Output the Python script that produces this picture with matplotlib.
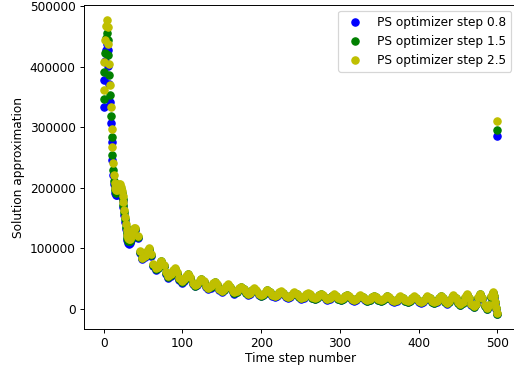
import numpy as np
import matplotlib
matplotlib.use("Agg")
import matplotlib.pyplot as plt

# time steps: every step at the start, then ~6 samples per period of the wiggle
steps = list(range(40)) + [
    40, 43, 46, 49, 52, 55,
    57, 60, 63, 66, 69, 72,
    73, 76, 79, 82, 85, 88,
    90, 93, 96, 99, 102, 105,
    107, 110, 113, 116, 119, 122,
    124, 127, 130, 133, 136, 139,
    141, 144, 147, 150, 153, 156,
    158, 161, 164, 166, 169, 172,
    175, 178, 181, 183, 186, 189,
    191, 194, 197, 200, 203, 206,
    208, 211, 214, 217, 220, 223,
    225, 228, 231, 234, 237, 240,
    242, 245, 248, 251, 254, 257,
    259, 262, 265, 268, 271, 274,
    276, 279, 282, 284, 287, 290,
    292, 295, 298, 301, 304, 307,
    309, 312, 315, 318, 321, 324,
    326, 329, 332, 335, 338, 341,
    343, 346, 349, 352, 355, 358,
    360, 363, 366, 369, 372, 375,
    377, 380, 383, 386, 389, 392,
    394, 397, 400, 403, 406, 409,
    411, 414, 417, 420, 423, 426,
    428, 431, 434, 436, 439, 442,
    444, 447, 450, 453, 456, 459,
    461, 464, 467, 470, 473, 476,
    478, 481, 484, 487, 490, 492,
    494, 496, 497, 498, 499, 500]

# solution approximation, in thousands
step_08 = [
    334, 378, 410, 428, 438, 428, 402, 371, 342, 307, 276, 246, 222, 206,
    200, 192, 188, 189, 193, 197, 199, 198, 194, 187, 178, 168, 156, 144, 132, 122,
    114, 109.5, 108, 109, 111, 114, 118, 122, 126, 128,
    131, 117.8, 92.8, 82, 85.3, 93,
    97, 88.1, 71.3, 64, 66.9, 73.5,
    77, 70.3, 57.5, 52, 54.6, 60.8,
    64, 58.5, 48, 43.5, 46, 51.9,
    56, 51, 41.6, 37.5, 39.8, 45.2,
    48, 44, 36.3, 33, 35.2, 40.3,
    43, 39.1, 31.7, 28.5, 30.7, 35.8,
    38.5, 35, 28.4, 25.5, 27.6, 32.4,
    35, 31.8, 25.8, 23.2, 25.1, 29.6,
    32, 29, 23.4, 21, 22.9, 27.2,
    29.9, 27.2, 22.1, 19.9, 21.7, 25.7,
    27.9, 25.3, 20.5, 18.4, 20.1, 24.1,
    26.2, 23.8, 19.2, 17.2, 18.9, 22.7,
    24.7, 22.4, 18.1, 16.2, 17.8, 21.6,
    23.6, 21.4, 17.2, 15.4, 17, 20.7,
    22.7, 20.5, 16.4, 14.6, 16.2, 19.9,
    21.9, 19.7, 15.7, 13.9, 15.5, 19.2,
    21.2, 19, 15, 13.2, 14.8, 18.6,
    20.6, 18.4, 14.4, 12.6, 14.3, 18.1,
    20.1, 17.9, 13.7, 11.9, 13.6, 17.5,
    19.6, 17.3, 13, 11.2, 13, 17.2,
    19.4, 16.9, 12.2, 10.2, 12.2, 16.9,
    19.4, 16.7, 11.6, 9.4, 11.7, 17.1,
    19.9, 16.8, 10.9, 8.4, 11.2, 17.5,
    20.9, 17, 9.6, 6.4, 9.9, 18.1,
    22.4, 17.1, 7.2, 2.9, 7.5, 18.2,
    23.9, 17.3, 4.8, -0.6, 5.3, 19.1,
    26.4, 20.4, 10.4, 0.4, -9, 285]
step_15 = [
    346, 391, 423, 447, 455, 445, 419, 386, 353, 318, 284, 254, 229, 212,
    204, 196, 192, 193, 197, 201, 203, 202, 198, 191, 182, 172, 160, 148, 136, 126,
    118, 113, 111.5, 112.5, 114.5, 117.5, 121.5, 125.5, 129, 130.5,
    132.5, 119.3, 94.3, 83.5, 86.8, 94.5,
    98.5, 89.6, 72.8, 65.5, 68.4, 75,
    78.5, 71.8, 59, 53.5, 56.1, 62.3,
    65.5, 60, 49.5, 45, 47.5, 53.4,
    57, 52, 42.6, 38.5, 40.8, 46.2,
    49, 45, 37.3, 34, 36.2, 41.3,
    44, 40.1, 32.7, 29.5, 31.7, 36.8,
    39.5, 36, 29.4, 26.5, 28.6, 33.4,
    36, 32.8, 26.8, 24.2, 26.1, 30.6,
    33, 30, 24.4, 22, 23.9, 28.2,
    30.7, 28, 22.9, 20.7, 22.5, 26.5,
    28.7, 26.1, 21.3, 19.2, 20.9, 24.9,
    27, 24.6, 20, 18, 19.7, 23.5,
    25.5, 23.2, 18.9, 17, 18.6, 22.4,
    24.4, 22.2, 18, 16.2, 17.8, 21.5,
    23.5, 21.3, 17.2, 15.4, 17, 20.7,
    22.7, 20.5, 16.5, 14.7, 16.3, 20,
    22, 19.8, 15.8, 14, 15.6, 19.4,
    21.4, 19.2, 15.2, 13.4, 15.1, 18.9,
    20.9, 18.7, 14.5, 12.7, 14.4, 18.3,
    20.4, 18.1, 13.8, 12, 13.8, 18,
    20.2, 17.7, 13, 11, 13, 17.7,
    20.2, 17.5, 12.4, 10.2, 12.5, 17.9,
    20.7, 17.6, 11.7, 9.2, 11.8, 18.3,
    21.7, 17.8, 10.4, 7.2, 10.7, 18.9,
    23.2, 17.9, 8, 3.7, 8.3, 19,
    24.7, 18.1, 5.6, 0.2, 6.1, 19.9,
    27.2, 21.2, 11.2, 1.2, -8, 295]
step_25 = [
    362, 408, 444, 468, 478, 466, 438, 405, 370, 334, 298, 268, 241, 221,
    208, 200, 196, 197, 201, 205, 207, 206, 202, 195, 186, 176, 164, 152, 140, 130,
    122, 117, 115, 116, 118, 121, 125, 129, 132, 133.5,
    134, 120.8, 95.8, 85, 88.3, 96,
    100, 91.1, 74.3, 67, 69.9, 76.5,
    80, 73.3, 60.5, 55, 57.6, 63.8,
    67, 61.5, 51, 46.5, 49, 54.9,
    58, 53, 43.6, 39.5, 41.8, 47.2,
    50, 46, 38.3, 35, 37.2, 42.3,
    45, 41.1, 33.7, 30.5, 32.7, 37.8,
    40.5, 37, 30.4, 27.5, 29.6, 34.4,
    37, 33.8, 27.8, 25.2, 27.1, 31.6,
    34, 31, 25.4, 23, 24.9, 29.2,
    31.5, 28.8, 23.7, 21.5, 23.3, 27.3,
    29.5, 26.9, 22.1, 20, 21.7, 25.7,
    27.8, 25.4, 20.8, 18.8, 20.5, 24.3,
    26.3, 24, 19.7, 17.8, 19.4, 23.2,
    25.2, 23, 18.8, 17, 18.6, 22.3,
    24.3, 22.1, 18, 16.2, 17.8, 21.5,
    23.5, 21.3, 17.3, 15.5, 17.1, 20.8,
    22.8, 20.6, 16.6, 14.8, 16.4, 20.2,
    22.2, 20, 16, 14.2, 15.9, 19.7,
    21.7, 19.5, 15.3, 13.5, 15.2, 19.1,
    21.2, 18.9, 14.6, 12.8, 14.6, 18.8,
    21, 18.5, 13.8, 11.8, 13.8, 18.5,
    21, 18.3, 13.2, 11, 13.3, 18.7,
    21.5, 18.4, 12.5, 10, 12.8, 19.1,
    22.5, 18.6, 11.2, 8, 11.5, 19.7,
    24, 18.7, 8.8, 4.5, 9.1, 19.8,
    25.5, 18.9, 6.4, 1, 6.9, 20.7,
    28, 22, 12, 2, -7, 310]

dpi = 87.4
fig = plt.figure(figsize=(514 / dpi, 366 / dpi), dpi=dpi)
ax = fig.add_axes([84 / 514, 37 / 366, 433 / 514, 324 / 366])

ax.plot(steps, np.array(step_08) * 1000, 'bo', label="PS optimizer step 0.8")
ax.plot(steps, np.array(step_15) * 1000, 'go', label="PS optimizer step 1.5")
ax.plot(steps, np.array(step_25) * 1000, 'yo', label="PS optimizer step 2.5")

ax.set_xlim(-25, 525)
ax.set_ylim(-33000, 502000)
ax.set_xlabel("Time step number", labelpad=1.5)
ax.set_ylabel("Solution approximation")
ax.legend(loc="upper right")

fig.savefig("out.png", dpi=dpi)
